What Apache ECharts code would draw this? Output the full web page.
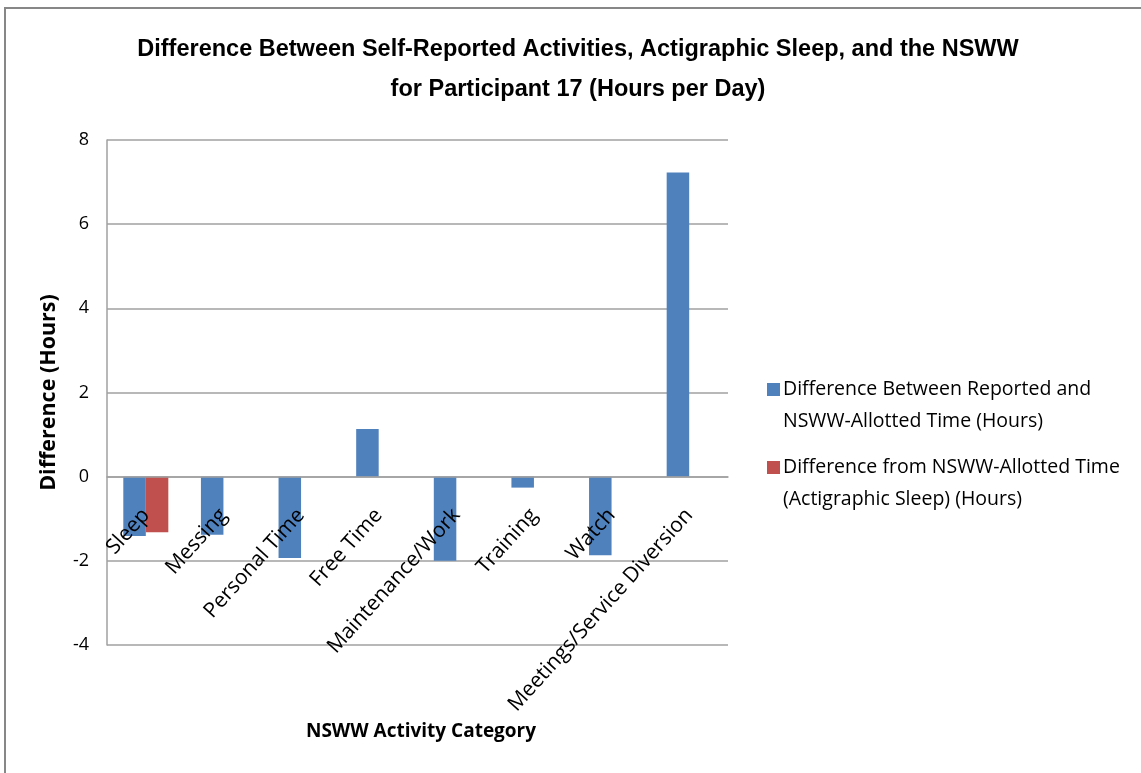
<!DOCTYPE html>
<html><head><meta charset="utf-8">
<script src="https://cdn.jsdelivr.net/npm/echarts@6/dist/echarts.min.js"></script>
<style>html,body{margin:0;padding:0;background:#fff}#c{width:1141px;height:773px}</style>
</head><body><div id="c"></div>
<script>
const categories = ["Sleep","Messing","Personal Time","Free Time","Maintenance/Work","Training","Watch","Meetings/Service Diversion"];
const reportedDiff = [-1.41,-1.38,-1.93,1.13,-2.0,-0.26,-1.87,7.23];
const actigraphDiff = [-1.32,null,null,null,null,null,null,null];
const yTicks = [-4,-2,0,2,4,6,8];
const seriesNames = ["Difference Between Reported and\nNSWW-Allotted Time (Hours)","Difference from NSWW-Allotted Time\n(Actigraphic Sleep) (Hours)"];

const W = 1141, H = 773;
const grid = {left:107,right:413,top:140,bottom:128};
const yMin = yTicks[0], yMax = yTicks[yTicks.length-1];
const plotH = H - grid.top - grid.bottom;
// place the category axis at y = 0 (axis crosses at zero like the original)
const zeroOffset = -plotH * (0 - yMin) / (yMax - yMin);

const titleFont = "Liberation Sans Narrow, Liberation Sans, sans-serif";
const bodyFont = "Open Sans, sans-serif";
const chart = echarts.init(document.getElementById('c'));
chart.setOption({
  animation:false,
  backgroundColor:'#fff',
  graphic:[{type:'rect',shape:{x:5,y:8,width:1140,height:770},style:{fill:null,stroke:'#878787',lineWidth:2}}],
  title:[
    {text:"Difference Between Self-Reported Activities, Actigraphic Sleep, and the NSWW\nfor Participant 17 (Hours per Day)",
     left:573,top:25,textAlign:'center',
     textStyle:{fontFamily:titleFont,fontWeight:'bold',fontSize:23.5,lineHeight:40,color:'#000'}},
    {text:'NSWW Activity Category',left:416,top:717,textAlign:'center',
     textStyle:{fontFamily:bodyFont,fontWeight:'bold',fontSize:19,color:'#000'}}
  ],
  legend:{orient:'vertical',left:762,top:368,itemWidth:13,itemHeight:44,itemGap:14,
    icon:'path://M0,0L13,0L13,13L0,13Z M0,44L0,44',
    textStyle:{fontFamily:bodyFont,fontSize:19.5,lineHeight:32,color:'#000',padding:[0,0,0,-2]},
    data:seriesNames},
  grid:Object.assign({outerBoundsMode:'none'},grid),
  xAxis:{type:'category',data:categories,position:'bottom',offset:zeroOffset,z:5,
    axisLine:{onZero:false,lineStyle:{color:'#a0a0a0',width:1.5}},
    axisTick:{show:false},
    axisLabel:{rotate:48,interval:0,margin:35,fontFamily:bodyFont,fontSize:21,color:'#000'}
  },
  yAxis:{type:'value',min:yMin,max:yMax,interval:2,
    name:'Difference (Hours)',nameLocation:'middle',nameGap:47,nameRotate:90,
    nameTextStyle:{fontFamily:bodyFont,fontWeight:'bold',fontSize:21.5,color:'#000'},
    axisLine:{show:true,lineStyle:{color:'#a0a0a0',width:1.5}},
    axisTick:{show:false},
    splitLine:{lineStyle:{color:'#a0a0a0',width:1.5}},
    axisLabel:{margin:18,fontFamily:bodyFont,fontSize:18,color:'#000',
      formatter:v=>yTicks.includes(v)?String(v):''}
  },
  series:[
    {name:seriesNames[0],type:'bar',data:reportedDiff,barGap:'0%',barCategoryGap:'42%',z:2,
      itemStyle:{color:'#4f81bd'}},
    {name:seriesNames[1],type:'bar',data:actigraphDiff,z:2,
      itemStyle:{color:'#c0504d'}}
  ]
});
</script></body></html>
